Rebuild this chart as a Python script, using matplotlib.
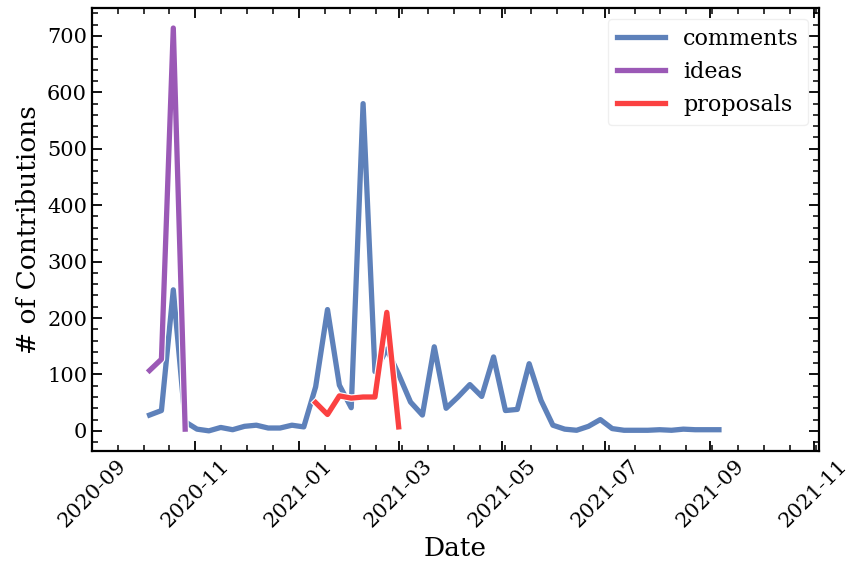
import matplotlib
matplotlib.use("Agg")
import matplotlib.pyplot as plt
import matplotlib.dates as mdates
import matplotlib.patheffects as pe
from matplotlib.ticker import AutoMinorLocator, MultipleLocator
import pandas as pd

# weekly counts (weeks starting on Monday)
comment_dates = pd.date_range("2020-10-05", periods=49, freq="7D")
comments = [28, 36, 250, 16, 3, 0, 6, 2, 8, 10, 5, 5, 10, 7, 78, 215, 81, 41,
            580, 105, 145, 100, 51, 28, 149, 40, 60, 82, 61, 131, 36, 38, 119,
            54, 10, 3, 1, 8, 20, 4, 1, 1, 1, 2, 1, 3, 2, 2, 2]

idea_dates = pd.date_range("2020-10-05", periods=4, freq="7D")
ideas = [107, 127, 714, 3]

proposal_dates = pd.date_range("2021-01-11", periods=8, freq="7D")
proposals = [50, 29, 62, 58, 60, 60, 210, 7]

plt.rcParams["font.family"] = "DejaVu Serif"
plt.rcParams["xtick.direction"] = "in"
plt.rcParams["ytick.direction"] = "in"
plt.rcParams["xtick.top"] = True
plt.rcParams["ytick.right"] = True
plt.rcParams["xtick.minor.visible"] = True
plt.rcParams["ytick.minor.visible"] = True

fig = plt.figure(figsize=(8.46, 5.65), dpi=100)
ax = fig.add_axes([0.1087, 0.2018, 0.8593, 0.7842])

outline = [pe.Stroke(linewidth=5.4, foreground="white"), pe.Normal()]
ax.plot(comment_dates, comments, color="#5e81ba", lw=3.8, label="comments",
        path_effects=outline)
ax.plot(idea_dates, ideas, color="#9b59b6", lw=3.8, label="ideas",
        path_effects=outline)
ax.plot(proposal_dates, proposals, color="#fb4141", lw=3.8, label="proposals",
        path_effects=outline)

ax.set_xlim(pd.Timestamp("2020-09-01"), pd.Timestamp("2021-11-04"))
ax.xaxis.set_major_locator(mdates.MonthLocator(bymonth=[1, 3, 5, 7, 9, 11]))
ax.xaxis.set_major_formatter(mdates.DateFormatter("%Y-%m"))
ax.xaxis.set_minor_locator(AutoMinorLocator(4))
ax.yaxis.set_major_locator(MultipleLocator(100))
ax.yaxis.set_minor_locator(AutoMinorLocator(5))

ax.tick_params(which="major", length=7, width=1.3, labelsize=15)
ax.tick_params(which="minor", length=4, width=1.1)
for s in ax.spines.values():
    s.set_linewidth(1.6)
plt.setp(ax.get_xticklabels(), rotation=45)

ax.set_xlabel("Date", fontsize=19)
ax.set_ylabel("# of Contributions", fontsize=19)
leg = ax.legend(loc="upper right", fontsize=16, handlelength=2.2)
leg.get_frame().set_edgecolor("#ececec")

fig.savefig("out.png", dpi=100)
